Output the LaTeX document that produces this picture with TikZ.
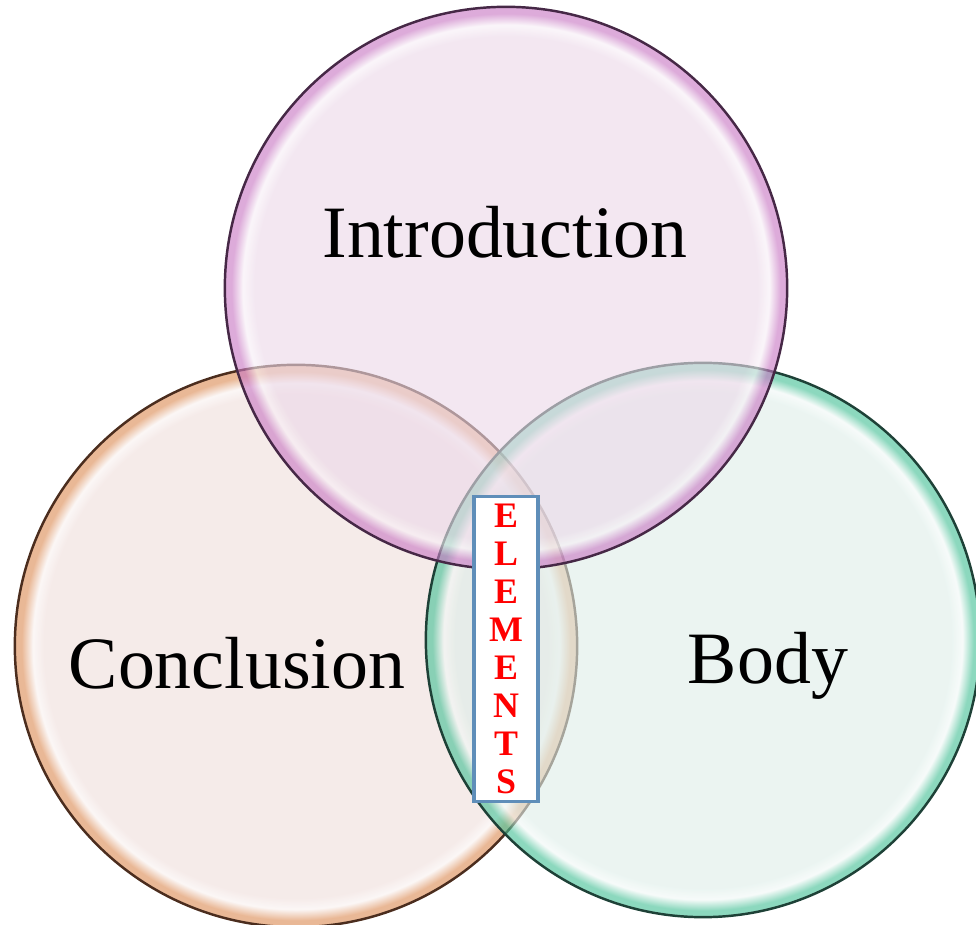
\documentclass[tikz,border=0pt]{standalone}
\usepackage{fontspec}
\setmainfont{Liberation Serif}

\definecolor{introfill}{RGB}{236,217,233}
\definecolor{introrim}{RGB}{200,120,195}
\definecolor{introdark}{RGB}{70,40,70}
\definecolor{conclfill}{RGB}{239,222,219}
\definecolor{conclrim}{RGB}{220,140,85}
\definecolor{concldark}{RGB}{75,45,30}
\definecolor{bodyfill}{RGB}{222,238,233}
\definecolor{bodyrim}{RGB}{70,192,150}
\definecolor{bodydark}{RGB}{30,65,55}
\definecolor{boxblue}{RGB}{95,142,185}

\pgfdeclareradialshading{introball}{\pgfpoint{0bp}{0bp}}{color(0bp)=(introfill); color(22.4bp)=(introfill); color(23.4bp)=(introfill!40!white); color(24.4bp)=(introrim); color(25bp)=(introrim); color(50bp)=(introrim)}
\pgfdeclareradialshading{conclball}{\pgfpoint{0bp}{0bp}}{color(0bp)=(conclfill); color(22.4bp)=(conclfill); color(23.4bp)=(conclfill!40!white); color(24.4bp)=(conclrim); color(25bp)=(conclrim); color(50bp)=(conclrim)}
\pgfdeclareradialshading{bodyball}{\pgfpoint{0bp}{0bp}}{color(0bp)=(bodyfill); color(22.4bp)=(bodyfill); color(23.4bp)=(bodyfill!40!white); color(24.4bp)=(bodyrim); color(25bp)=(bodyrim); color(50bp)=(bodyrim)}

\tikzstyle{bubble} = [circle, inner sep=0pt, minimum size=5.62cm, shade, fill opacity=0.62, line width=0.7pt]
\tikzstyle{bigtext} = [anchor=base, inner sep=0pt, font=\fontsize{21}{25}\selectfont]
\tikzstyle{tagbox} = [rectangle, minimum width=0.64cm, minimum height=3.04cm, inner sep=0pt, align=center, fill=white, draw=boxblue, line width=0.9pt, text=red, font=\bfseries\fontsize{10.2}{10.8}\selectfont]

\begin{document}
\begin{tikzpicture}[x=0.01cm, y=-0.01cm]
\useasboundingbox (0,0) rectangle (976,925);

\node (concl) [bubble, shading=conclball, draw=concldark] at (296,646) {};
\node (body) [bubble, minimum size=5.54cm, shading=bodyball, draw=bodydark] at (703,640) {};
\node (intro) [bubble, shading=introball, draw=introdark] at (506,288) {};

\node (introtext) [bigtext] at (505,258) {Introduction};
\node (concltext) [bigtext] at (237,688) {Conclusion};
\node (bodytext) [bigtext] at (768,683) {Body};

\node (elements) [tagbox] at (506,649) {E\\L\\E\\M\\E\\N\\T\\S};

\end{tikzpicture}
\end{document}
